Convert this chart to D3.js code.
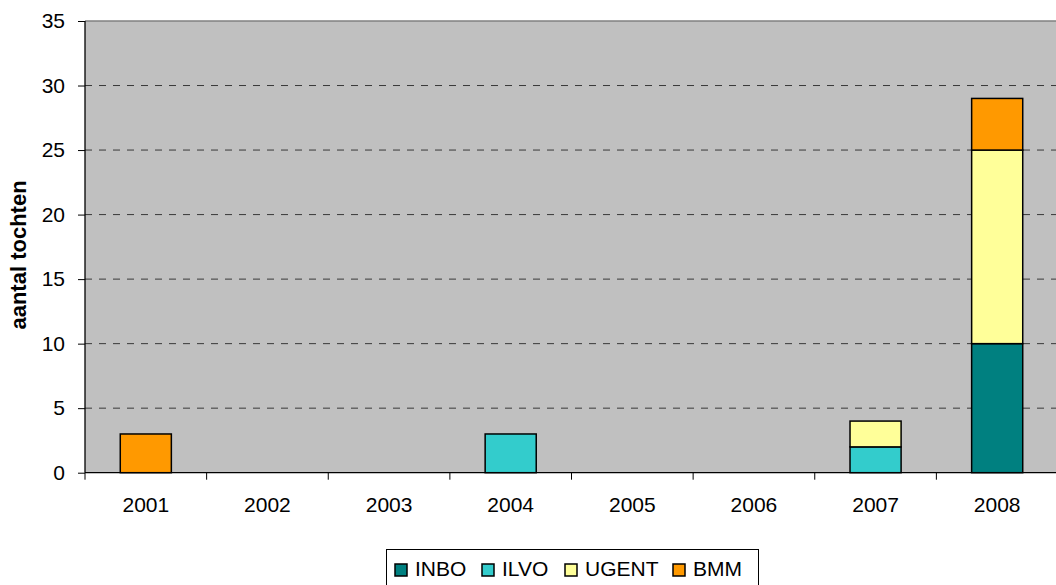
<!DOCTYPE html>
<html><head><meta charset="utf-8">
<script src="https://cdn.jsdelivr.net/npm/d3@7"></script>
<style>body{margin:0;background:#fff}svg{display:block;font-family:Arial,"Liberation Sans",sans-serif}</style>
</head><body>
<svg id="c" width="1056" height="585"></svg>
<script>
const years = ["2001","2002","2003","2004","2005","2006","2007","2008"];
const seriesNames = ["INBO","ILVO","UGENT","BMM"];
const INBO  = [0,0,0,0,0,0,0,10];
const ILVO  = [0,0,0,3,0,0,2,0];
const UGENT = [0,0,0,0,0,0,2,15];
const BMM   = [3,0,0,0,0,0,0,4];
const colors = ["#008080","#33CCCC","#FFFF99","#FF9900"];
const yTicks = [0,5,10,15,20,25,30,35];

const FF = "Arial,'Liberation Sans',sans-serif";
const svg = d3.select("#c");
const L=85, R=1058, T=21, B=472.7;
const x = d3.scaleBand().domain(years).range([L,R]).paddingInner(0).paddingOuter(0);
const y = d3.scaleLinear().domain([0,35]).range([B,T]);

svg.append("rect").attr("x",L).attr("y",T).attr("width",R-L).attr("height",B-T).attr("fill","#C0C0C0");
svg.append("line").attr("x1",L).attr("x2",R).attr("y1",T).attr("y2",T).attr("stroke","#808080").attr("stroke-width",1.5);

// gridlines
svg.append("g").selectAll("line").data(yTicks.filter(d=>d>0&&d<35)).join("line")
  .attr("x1",L).attr("x2",R).attr("y1",d=>y(d)).attr("y2",d=>y(d))
  .attr("stroke","#000").attr("stroke-width",1).attr("stroke-dasharray","7,7").attr("opacity",0.7);

const data = years.map((yr,i)=>({year:yr,INBO:INBO[i],ILVO:ILVO[i],UGENT:UGENT[i],BMM:BMM[i]}));
const stack = d3.stack().keys(seriesNames)(data);
const bw = x.bandwidth()*0.42;
svg.append("g").selectAll("g").data(stack).join("g").attr("fill",(d,i)=>colors[i])
  .selectAll("rect").data(d=>d.filter(e=>e[1]-e[0]>0)).join("rect")
  .attr("x",d=>x(d.data.year)+(x.bandwidth()-bw)/2).attr("width",bw)
  .attr("y",d=>y(d[1])).attr("height",d=>y(d[0])-y(d[1]))
  .attr("stroke","#000").attr("stroke-width",1.5);

// y axis
const ya = svg.append("g").attr("transform",`translate(${L},0)`)
  .call(d3.axisLeft(y).tickValues(yTicks).tickSize(7).tickPadding(13));
ya.select(".domain").attr("stroke","#000").attr("stroke-width",1.3).attr("d",`M0,${T}V${B}`);
ya.selectAll(".tick line").attr("stroke","#000");
ya.selectAll("text").attr("font-size",21).attr("fill","#000").attr("font-family",FF);

// x axis
const xa = svg.append("g").attr("transform",`translate(0,${B})`)
  .call(d3.axisBottom(x).tickSize(0).tickPadding(24));
xa.select(".domain").attr("stroke","#000").attr("stroke-width",1.3).attr("d",`M${L},0H${R}`);
xa.selectAll("text").attr("font-size",21).attr("fill","#000").attr("font-family",FF);
const bounds = years.map(yy=>x(yy)).concat([R]);
svg.append("g").selectAll("line").data(bounds).join("line")
  .attr("x1",d=>d).attr("x2",d=>d).attr("y1",B).attr("y2",B+7).attr("stroke","#000");

// y label
svg.append("text").attr("transform","translate(26,255) rotate(-90)").attr("text-anchor","middle")
  .attr("font-size",22).attr("font-weight","bold").attr("font-family",FF).text("aantal tochten");

// legend
const lg = svg.append("g");
lg.append("rect").attr("x",386.5).attr("y",549.5).attr("width",372).attr("height",40).attr("fill","#fff").attr("stroke","#000").attr("stroke-width",1);
const itemX = [395,482,565,673];
seriesNames.forEach((s,i)=>{
  lg.append("rect").attr("x",itemX[i]).attr("y",564).attr("width",12).attr("height",12).attr("fill",colors[i]).attr("stroke","#000").attr("stroke-width",1.5);
  lg.append("text").attr("x",itemX[i]+20).attr("y",575.5).attr("font-size",21).attr("font-family",FF).text(s);
});
</script>
</body></html>
